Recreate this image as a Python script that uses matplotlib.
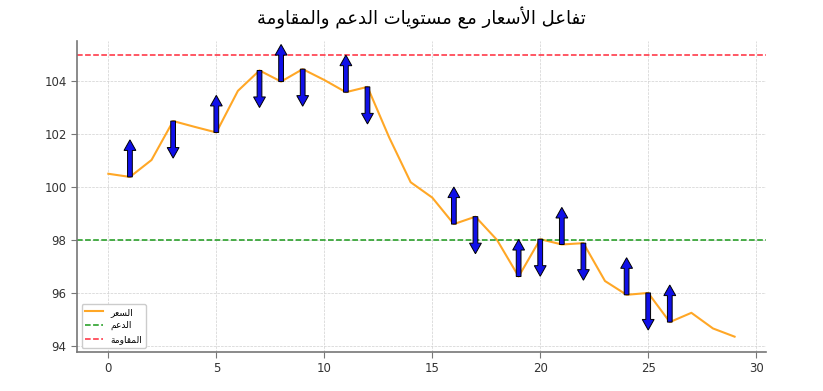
import matplotlib
matplotlib.use('Agg')
import matplotlib.pyplot as plt

# price series
days = list(range(30))
price = [100.50, 100.38, 101.02, 102.49, 102.27, 102.06, 103.63, 104.40, 103.98, 104.45,
         104.04, 103.58, 103.78, 101.88, 100.18, 99.60, 98.60, 98.88, 98.00, 96.62,
         98.03, 97.83, 97.88, 96.45, 95.93, 96.00, 94.90, 95.25, 94.66, 94.35]
support = 98
resistance = 105

# arrows: +1 up, -1 down
arrow_idx = [1, 3, 5, 7, 8, 9, 11, 12, 16, 17, 19, 20, 21, 22, 24, 25, 26]
arrow_dir = [1, -1, 1, -1, 1, -1, 1, -1, 1, -1, 1, -1, 1, -1, 1, -1, 1]

title = 'تفاعل الأسعار مع مستويات الدعم والمقاومة'
lbl_price = 'السعر'
lbl_support = 'الدعم'
lbl_resist = 'المقاومة'

# minimal arabic shaping (no arabic_reshaper available)
forms = {
    'ا': ('\ufe8d', '\ufe8e', None, None),
    'أ': ('\ufe83', '\ufe84', None, None),
    'د': ('\ufea9', '\ufeaa', None, None),
    'ر': ('\ufead', '\ufeae', None, None),
    'و': ('\ufeed', '\ufeee', None, None),
    'ة': ('\ufe93', '\ufe94', None, None),
    'ت': ('\ufe95', '\ufe96', '\ufe97', '\ufe98'),
    'ف': ('\ufed1', '\ufed2', '\ufed3', '\ufed4'),
    'ع': ('\ufec9', '\ufeca', '\ufecb', '\ufecc'),
    'ل': ('\ufedd', '\ufede', '\ufedf', '\ufee0'),
    'س': ('\ufeb1', '\ufeb2', '\ufeb3', '\ufeb4'),
    'م': ('\ufee1', '\ufee2', '\ufee3', '\ufee4'),
    'ي': ('\ufef1', '\ufef2', '\ufef3', '\ufef4'),
    'ق': ('\ufed5', '\ufed6', '\ufed7', '\ufed8'),
}
lamalef = {'ا': ('\ufefb', '\ufefc'), 'أ': ('\ufef7', '\ufef8')}


def dual(c):
    return c in forms and forms[c][2] is not None


def shape(s):
    out = []
    i = 0
    while i < len(s):
        c = s[i]
        if c not in forms:
            out.append(c)
            i += 1
            continue
        prev = s[i - 1] if i > 0 else ' '
        joins_prev = dual(prev)
        if c == 'ل' and i + 1 < len(s) and s[i + 1] in lamalef:
            out.append(lamalef[s[i + 1]][1 if joins_prev else 0])
            i += 2
            continue
        nxt = s[i + 1] if i + 1 < len(s) else ' '
        joins_next = dual(c) and nxt in forms
        iso, fin, ini, med = forms[c]
        if joins_prev and joins_next:
            out.append(med)
        elif joins_prev:
            out.append(fin)
        elif joins_next:
            out.append(ini)
        else:
            out.append(iso)
        i += 1
    return ''.join(reversed(out))


plt.rcParams['font.family'] = ['DejaVu Sans']

fig = plt.figure(figsize=(8.23, 3.91), dpi=100)
ax = fig.add_axes([0.0936, 0.0997, 0.837, 0.7953])

ax.plot(days, price, color='#ffa726', lw=1.5, label=shape(lbl_price), zorder=2)
ax.axhline(support, color='#1a9a1a', ls='--', lw=1.1, label=shape(lbl_support))
ax.axhline(resistance, color='#ff2a3a', ls='--', lw=1.1, label=shape(lbl_resist))

for i, d in zip(arrow_idx, arrow_dir):
    ax.arrow(days[i], price[i], 0, d * 1.0, width=0.22, head_width=0.55,
             head_length=0.4, fc='#1010e8', ec='black', lw=0.7, zorder=3)

ax.set_xlim(-1.45, 30.45)
ax.set_ylim(93.77, 105.51)
ax.set_xticks([0, 5, 10, 15, 20, 25, 30])
ax.set_yticks([94, 96, 98, 100, 102, 104])

ax.grid(True, ls='--', lw=0.5, color='#d0d0d0')
ax.set_axisbelow(True)
for s in ['top', 'right']:
    ax.spines[s].set_visible(False)
for s in ['left', 'bottom']:
    ax.spines[s].set_color('#777777')
    ax.spines[s].set_linewidth(1.2)
ax.tick_params(colors='#777777', labelcolor='#333333', labelsize=8.5, length=4)

ax.set_title(shape(title), fontsize=13, pad=12)
ax.legend(loc='lower left', fontsize=6.5, framealpha=1, edgecolor='#cccccc')

fig.savefig('out.png', dpi=100)
